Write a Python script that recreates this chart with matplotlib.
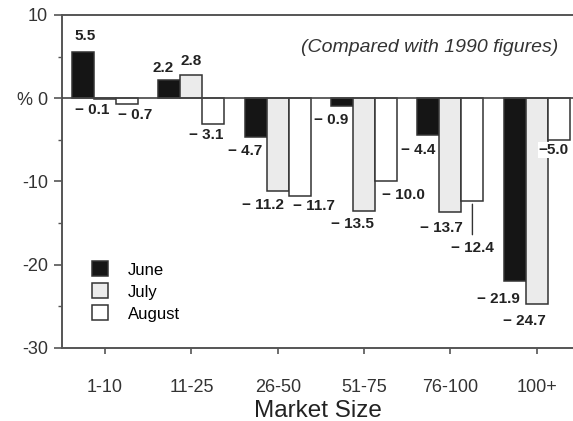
import numpy as np
import matplotlib.pyplot as plt
from matplotlib.patches import Patch

plt.rcParams['font.family'] = ['Liberation Sans', 'DejaVu Sans']

# data
sizes = ["1-10", "11-25", "26-50", "51-75", "76-100", "100+"]
june = [5.5, 2.2, -4.7, -0.9, -4.4, -21.9]
july = [-0.1, 2.8, -11.2, -13.5, -13.7, -24.7]
august = [-0.7, -3.1, -11.7, -10.0, -12.4, -5.0]

series = [("June", june, "#151515"), ("July", july, "#ebebeb"), ("August", august, "#ffffff")]

# label offsets in pixels (dx, dy) from bar end, per series per category
label_off = {
    "June":   [(2, 16), (-6, 12), (-11, -14), (-11, -14), (-10, -15), (-16, -18)],
    "July":   [(-13, -11), (0, 14), (-15, -14), (-12, -13), (-9, -16), (-12, -17)],
    "August": [(8, -11), (-7, -11), (14, -10), (17, -14), (0, -47), (-5, -10)],
}

def fmt(v):
    if v < 0:
        return "\u2212 %.1f" % abs(v)
    return "%.1f" % v

fig = plt.figure(figsize=(5.73, 4.21), dpi=100)
ax = fig.add_axes([0.108, 0.1734, 0.892, 0.791])

x = np.arange(len(sizes))
w = 0.255
edge = "#333333"

for i, (name, vals, col) in enumerate(series):
    xs = x + (i - 1) * w
    ax.bar(xs, vals, w, color=col, edgecolor=edge, linewidth=1.1, zorder=2)
    for j, v in enumerate(vals):
        dx, dy = label_off[name][j]
        txt = fmt(v)
        if name == "August" and j == 5:
            txt = txt.replace(" ", "")  # tight against the right edge
        ax.annotate(txt, (xs[j], v), xytext=(dx, dy), textcoords="offset pixels",
                    ha="center", va="center", fontsize=11, fontweight="bold",
                    color="#222222", zorder=4, annotation_clip=False,
                    bbox=dict(boxstyle="square,pad=0.05", fc="white", ec="none"))
        if name == "August" and j == 4:
            # leader line for the -12.4 label
            ax.annotate("", (xs[j], v), xytext=(0, -36), textcoords="offset pixels",
                        arrowprops=dict(arrowstyle="-", color=edge, lw=1.0))

ax.axhline(0, color="#444444", lw=1.2, zorder=3)

ax.set_xlim(-0.5, 5.42)
ax.set_ylim(-30, 10)
ax.set_yticks([10, 0, -10, -20, -30])
ax.set_yticklabels(["10", "% 0", "-10", "-20", "-30"])
ax.set_yticks([5, -5, -15, -25], minor=True)
ax.set_xticks(x)
ax.set_xticklabels(sizes)

ax.tick_params(axis="y", which="major", length=6, width=1.2, color="#555555",
               labelsize=13, labelcolor="#333333", pad=4)
ax.tick_params(axis="y", which="minor", length=3, width=1.0, color="#555555")
ax.tick_params(axis="x", length=4, width=1.2, color="#555555",
               labelsize=13, labelcolor="#333333", pad=18)

for s in ["left", "top", "bottom"]:
    ax.spines[s].set_color("#555555")
    ax.spines[s].set_linewidth(1.4)
ax.spines["right"].set_visible(False)

ax.set_xlabel("Market Size", fontsize=17.5, color="#222222", labelpad=3)

ax.text(0.972, 0.902, "(Compared with 1990 figures)", transform=ax.transAxes,
        ha="right", va="center", fontsize=14, style="italic", color="#333333")

handles = [Patch(facecolor=c, edgecolor=edge, linewidth=1.1, label=n) for n, _, c in series]
ax.legend(handles=handles, loc="upper left", bbox_to_anchor=(0.045, 0.28),
          frameon=False, fontsize=12, handlelength=1.0, handleheight=1.0,
          handletextpad=1.2, labelspacing=0.35, borderaxespad=0)

fig.savefig("out.png", dpi=100)
